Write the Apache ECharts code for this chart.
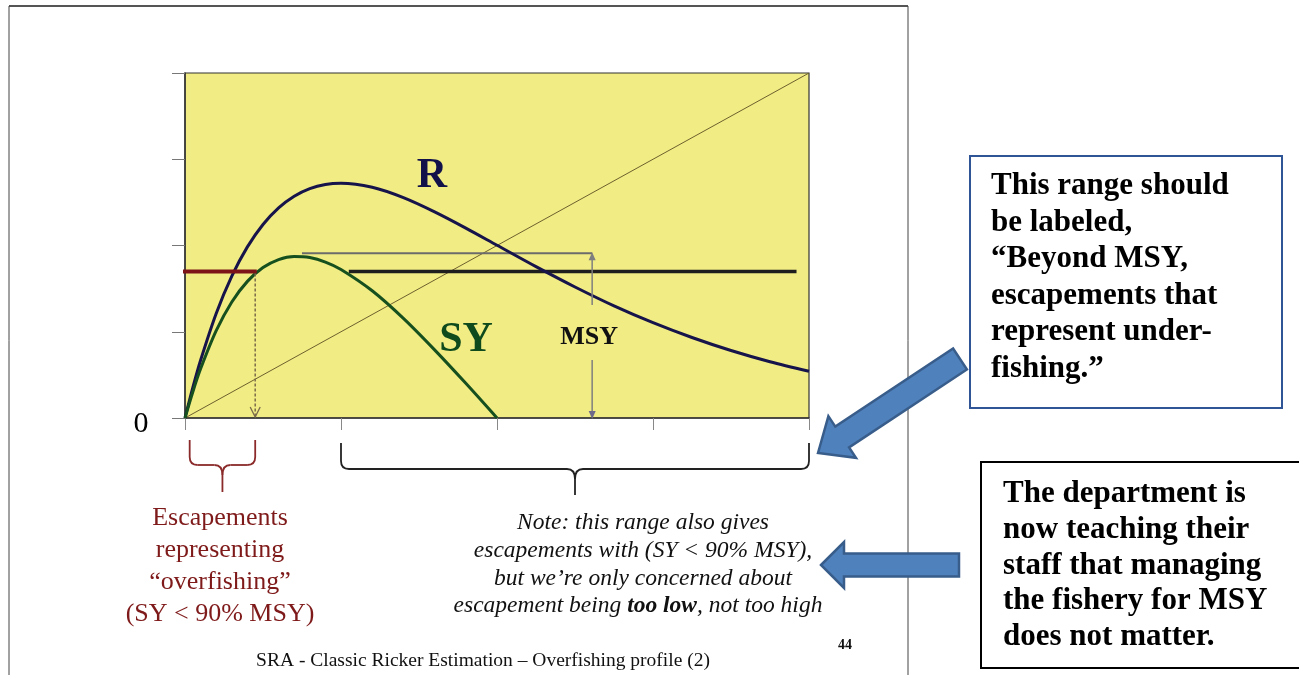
<!DOCTYPE html>
<html><head><meta charset="utf-8">
<script src="https://cdn.jsdelivr.net/npm/echarts@6/dist/echarts.min.js"></script>
<style>html,body{margin:0;padding:0;background:#fff;}#c{width:1299px;height:675px;}</style>
</head><body><div id="c"></div>
<script>
// ---- data (escapement S in axis units, 0..4) ----
const escapement   = [0, 0.05, 0.1, 0.2, 0.3, 0.4, 0.5, 0.6, 0.7, 0.8, 0.9, 1.0, 1.2, 1.4, 1.6, 1.8, 2.0, 2.25, 2.5, 2.75, 3.0, 3.25, 3.5, 3.75, 4.0];
const recruits     = [0, 0.352, 0.670, 1.212, 1.645, 1.984, 2.244, 2.437, 2.572, 2.660, 2.708, 2.722, 2.675, 2.555, 2.390, 2.202, 2.003, 1.755, 1.519, 1.300, 1.105, 0.933, 0.782, 0.652, 0.542];
const surplusYield = [0, 0.302, 0.570, 1.012, 1.345, 1.584, 1.744, 1.837, 1.872, 1.860, 1.808, 1.722, 1.475, 1.155, 0.790, 0.402, 0.0];
const replacement  = [[0, 0], [4, 4]];
const axisTicks    = [0, 1, 2, 3, 4];
const msyLevel     = 1.91;
const msyRange     = [0.75, 2.61];
const level90      = 1.70;
const overfishLine = [-0.03, 0.46];
const underfishLine= [1.05, 3.92];
const overfishArrowX = 0.45;
const braceRanges  = [[0.03, 0.45], [1.0, 4.0]];
const originLabel  = '0';

const serif = "'Liberation Serif','Times New Roman',serif";
const chart = echarts.init(document.getElementById('c'), null, {renderer: 'canvas', width: 1299, height: 675});

function hline(range, level) { return [[range[0], level], [range[1], level]]; }

function blockArrow(tip, tail, headLen, headHalf, shaftHalf) {
  const dx = tip[0] - tail[0], dy = tip[1] - tail[1];
  const L = Math.hypot(dx, dy), ux = dx / L, uy = dy / L, nx = -uy, ny = ux;
  const N = [tip[0] - ux * headLen, tip[1] - uy * headLen];
  return [tip,
    [N[0] + nx * headHalf, N[1] + ny * headHalf],
    [N[0] + nx * shaftHalf, N[1] + ny * shaftHalf],
    [tail[0] + nx * shaftHalf, tail[1] + ny * shaftHalf],
    [tail[0] - nx * shaftHalf, tail[1] - ny * shaftHalf],
    [N[0] - nx * shaftHalf, N[1] - ny * shaftHalf],
    [N[0] - nx * headHalf, N[1] - ny * headHalf]];
}

function txt(x, y, text, font, fill, align) {
  return {type: 'text', x: x, y: y, z: 10, style: {text: text, font: font, fill: fill,
    textAlign: align || 'center', textVerticalAlign: 'middle', align: align || 'center', verticalAlign: 'middle'}};
}
function lines(x, y0, dy, arr, font, fill, align) {
  return arr.map((t, i) => txt(x, y0 + i * dy, t, font, fill, align));
}

const braceStyles = [
  {color: '#8B2A2A', top: 22, mid: 47, tip: 74},
  {color: '#222222', top: 25, mid: 51, tip: 77}
];

const graphics = [
  // slide frame
  {type: 'line', shape: {x1: 9, y1: 6, x2: 908, y2: 6}, style: {stroke: '#555', lineWidth: 2}},
  {type: 'line', shape: {x1: 9, y1: 6, x2: 9, y2: 675}, style: {stroke: '#444', lineWidth: 1}},
  {type: 'line', shape: {x1: 908, y1: 6, x2: 908, y2: 675}, style: {stroke: '#444', lineWidth: 1}},
  txt(141, 424, originLabel, '30px ' + serif, '#000'),
  txt(432, 176, 'R', 'bold 42px ' + serif, '#12114A'),
  txt(466, 340, 'SY', 'bold 42px ' + serif, '#0E4A1C'),
  ...lines(220, 518, 32, ['Escapements', 'representing', '\u201Coverfishing\u201D', '(SY < 90% MSY)'], '26px ' + serif, '#7F1A1A'),
  ...lines(643, 523, 28, ['Note: this range also gives', 'escapements with (SY < 90% MSY),', 'but we\u2019re only concerned about'], 'italic 23.5px ' + serif, '#111'),
  {type: 'text', x: 638, y: 606, z: 10, style: {
    text: '{i|escapement being }{b|too low}{i|, not too high}',
    textAlign: 'center', textVerticalAlign: 'middle', align: 'center', verticalAlign: 'middle',
    rich: {i: {font: 'italic 23.5px ' + serif, fill: '#111'}, b: {font: 'italic bold 23.5px ' + serif, fill: '#111'}}}},
  txt(845, 645, '44', 'bold 14px ' + serif, '#111'),
  txt(483, 661, 'SRA - Classic Ricker Estimation \u2013 Overfishing profile (2)', '19.5px ' + serif, '#111'),
  // text box 1
  {type: 'rect', shape: {x: 970, y: 156, width: 312, height: 252}, style: {fill: '#fff', stroke: '#2F5597', lineWidth: 2}},
  ...lines(991, 186, 36.5, ['This range should', 'be labeled,', '\u201CBeyond MSY,', 'escapements that', 'represent under-', 'fishing.\u201D'], 'bold 31px ' + serif, '#000', 'left'),
  // text box 2
  {type: 'rect', shape: {x: 981, y: 462, width: 330, height: 206}, style: {fill: '#fff', stroke: '#000', lineWidth: 2}},
  ...lines(1003, 494, 35.75, ['The department is', 'now teaching their', 'staff that managing', 'the fishery for MSY', 'does not matter.'], 'bold 31px ' + serif, '#000', 'left'),
  // block arrows
  {type: 'polygon', z: 12, shape: {points: blockArrow([818, 453], [960, 359], 29, 25, 12.5)}, style: {fill: '#4F81BD', stroke: '#385D8A', lineWidth: 2.5}},
  {type: 'polygon', z: 12, shape: {points: blockArrow([821, 565], [959, 565], 23, 23, 11.5)}, style: {fill: '#4F81BD', stroke: '#385D8A', lineWidth: 2.5}}
];

const option = {
  animation: false,
  backgroundColor: '#fff',
  grid: {left: 185, top: 73, width: 624, height: 345, show: true, backgroundColor: '#F1EC84', borderColor: '#333', borderWidth: 1.2},
  xAxis: {type: 'value', min: axisTicks[0], max: axisTicks[axisTicks.length - 1], interval: 1,
    axisLine: {show: true, onZero: false, lineStyle: {color: '#333', width: 1.5}},
    axisTick: {show: true, length: 12, lineStyle: {color: '#888', width: 1}},
    axisLabel: {show: false}, splitLine: {show: false}},
  yAxis: {type: 'value', min: axisTicks[0], max: axisTicks[axisTicks.length - 1], interval: 1,
    axisLine: {show: true, onZero: false, lineStyle: {color: '#333', width: 1.5}},
    axisTick: {show: true, length: 13, lineStyle: {color: '#777', width: 1}},
    axisLabel: {show: false}, splitLine: {show: false}},
  graphic: graphics,
  series: [
    {type: 'line', data: replacement, symbol: 'none', lineStyle: {color: '#6E5F2E', width: 1}, z: 2},
    {type: 'line', data: escapement.map((s, i) => [s, recruits[i]]), smooth: 0.3, symbol: 'none', lineStyle: {color: '#16144A', width: 3}, z: 4},
    {type: 'line', data: surplusYield.map((v, i) => [escapement[i], v]), smooth: 0.3, symbol: 'none', lineStyle: {color: '#17501F', width: 3}, z: 4},
    {type: 'line', data: hline(msyRange, msyLevel), symbol: 'none', lineStyle: {color: '#6B6B6B', width: 2}, z: 3},
    {type: 'line', data: hline(underfishLine, level90), symbol: 'none', lineStyle: {color: '#1E1E1E', width: 3.5}, z: 3},
    {type: 'line', data: hline(overfishLine, level90), symbol: 'none', clip: false, lineStyle: {color: '#7D1518', width: 4}, z: 5},
    {type: 'custom', data: [[overfishArrowX, level90]], z: 6, renderItem: function (params, api) {
      const top = api.coord([api.value(0), api.value(1)]), bot = api.coord([api.value(0), 0]);
      return {type: 'group', children: [
        {type: 'line', shape: {x1: top[0], y1: top[1] + 2, x2: bot[0], y2: bot[1] - 2}, style: {stroke: '#7A6B4A', lineWidth: 1.5, lineDash: [3, 2]}},
        {type: 'polyline', shape: {points: [[bot[0] - 5, bot[1] - 11], [bot[0], bot[1] - 1], [bot[0] + 5, bot[1] - 11]]}, style: {stroke: '#7A6B4A', lineWidth: 1.3, fill: null}}
      ]};
    }},
    {type: 'custom', data: [[msyRange[1], msyLevel]], z: 6, renderItem: function (params, api) {
      const top = api.coord([api.value(0), api.value(1)]), bot = api.coord([api.value(0), 0]);
      const x = top[0], lab = bot[1] - 81;
      const st = {stroke: '#7F7F7F', lineWidth: 1.5};
      return {type: 'group', children: [
        {type: 'line', shape: {x1: x, y1: top[1] + 4, x2: x, y2: lab - 32}, style: st},
        {type: 'line', shape: {x1: x, y1: lab + 23, x2: x, y2: bot[1] - 4}, style: st},
        {type: 'polygon', shape: {points: [[x, top[1] - 1], [x - 3.5, top[1] + 7], [x + 3.5, top[1] + 7]]}, style: {fill: '#7F7F7F'}},
        {type: 'polygon', shape: {points: [[x, bot[1] + 1], [x - 3.5, bot[1] - 7], [x + 3.5, bot[1] - 7]]}, style: {fill: '#6F6A8A'}},
        {type: 'text', x: x - 3, y: lab, style: {text: 'MSY', font: 'bold 26px ' + serif, fill: '#111', textAlign: 'center', textVerticalAlign: 'middle', align: 'center', verticalAlign: 'middle'}}
      ]};
    }},
    {type: 'custom', data: braceRanges, z: 6, renderItem: function (params, api) {
      const s = braceStyles[params.dataIndex];
      const a = api.coord([api.value(0), 0]), b = api.coord([api.value(1), 0]);
      const x1 = a[0], x2 = b[0], base = a[1], xc = (x1 + x2) / 2;
      const yt = base + s.top, ym = base + s.mid, yp = base + s.tip, r = 8;
      const st = {stroke: s.color, lineWidth: 1.8, fill: null};
      return {type: 'group', children: [
        {type: 'line', shape: {x1: x1, y1: yt, x2: x1, y2: ym - r}, style: st},
        {type: 'bezierCurve', shape: {x1: x1, y1: ym - r, cpx1: x1, cpy1: ym, x2: x1 + r, y2: ym}, style: st},
        {type: 'line', shape: {x1: x1 + r, y1: ym, x2: xc - r, y2: ym}, style: st},
        {type: 'bezierCurve', shape: {x1: xc - r, y1: ym, cpx1: xc, cpy1: ym, x2: xc, y2: ym + r + 2}, style: st},
        {type: 'line', shape: {x1: x2, y1: yt, x2: x2, y2: ym - r}, style: st},
        {type: 'bezierCurve', shape: {x1: x2, y1: ym - r, cpx1: x2, cpy1: ym, x2: x2 - r, y2: ym}, style: st},
        {type: 'line', shape: {x1: x2 - r, y1: ym, x2: xc + r, y2: ym}, style: st},
        {type: 'bezierCurve', shape: {x1: xc + r, y1: ym, cpx1: xc, cpy1: ym, x2: xc, y2: ym + r + 2}, style: st},
        {type: 'line', shape: {x1: xc, y1: ym + r + 2, x2: xc, y2: yp}, style: st}
      ]};
    }}
  ]
};
chart.setOption(option);
</script></body></html>
